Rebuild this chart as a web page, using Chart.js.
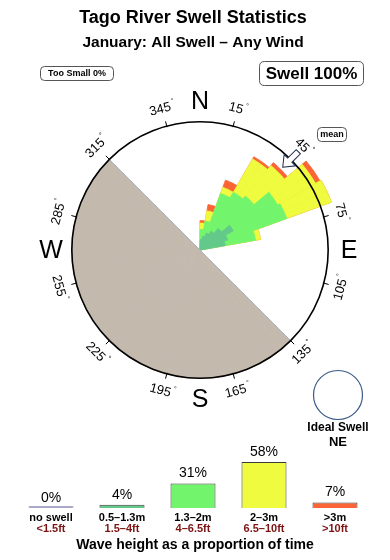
<!DOCTYPE html>
<html><head><meta charset="utf-8">
<script src="https://cdn.jsdelivr.net/npm/chart.js@4.4.1/dist/chart.umd.min.js"></script>
<style>
html,body{margin:0;padding:0;background:#fff;width:390px;height:560px;overflow:hidden}
#wrap{position:relative;width:390px;height:560px}
canvas{position:absolute;left:0}
#rose{top:0}
#bars{top:440px}
</style></head><body>
<div id="wrap"><canvas id="rose" width="390" height="560"></canvas><canvas id="bars" width="390" height="120"></canvas></div>
<script>
const FONT = '"Liberation Sans", Arial, Helvetica, sans-serif';
const titleText = 'Tago River Swell Statistics';
const subtitleText = 'January: All Swell – Any Wind';
const tooSmallText = 'Too Small 0%';
const swellText = 'Swell 100%';

// direction bins (start angle, degrees clockwise from N), 10° wide
const dirBinStart = [0, 10, 20, 30, 40, 50, 60, 70];
const dirBinWidth = 10;
// rose radius contribution per wave-height class (outer circle = 100)
const swell05to13 = [8, 11, 14, 17, 22, 30, 23, 20];
const swell13to2  = [8, 12, 33, 35, 33, 40, 49, 24];
const swell2to3   = [5,  8,  5, 30, 31, 34, 37,  4];
const swell3plus  = [2,  5,  6,  2,  3,  4,  0,  0];
// land sector (clockwise from..to)
const landFrom = 135, landTo = 315;
const meanDir = 45;
const idealSwell = 'NE';
const degreeTicks = [15, 45, 75, 105, 135, 165, 195, 225, 255, 285, 315, 345];
const compassLabels = ['N', 'E', 'S', 'W'];

// legend (wave height proportions)
const legendLabels = ['no swell', '0.5–1.3m', '1.3–2m', '2–3m', '>3m'];
const legendFeet = ['<1.5ft', '1.5–4ft', '4–6.5ft', '6.5–10ft', '>10ft'];
const legendPct = [0, 4, 31, 58, 7];
const footerText = 'Wave height as a proportion of time';

const colDark = '#63c98b', colGreen = '#72f56d', colYellow = '#eefb3e', colRed = '#fb6535', colLand = '#c4b9ad';
const legendColors = ['#a9a9c6', colDark, colGreen, colYellow, colRed];

// build 5-degree arrays
const STEP = 5, NB = 360 / STEP;
const roseLabels = Array.from({length: NB}, (_, i) => (i * STEP) + '°');
function cumulative(layers) {
  const out = new Array(NB).fill(0);
  dirBinStart.forEach((d, b) => {
    let v = 0; layers.forEach(l => v += l[b]);
    for (let a = d; a < d + dirBinWidth; a += STEP) out[a / STEP] = v;
  });
  return out;
}
const cumDark = cumulative([swell05to13]);
const cumGreen = cumulative([swell05to13, swell13to2]);
const cumYellow = cumulative([swell05to13, swell13to2, swell2to3]);
const cumRed = cumulative([swell05to13, swell13to2, swell2to3, swell3plus]);
const landData = Array.from({length: NB}, (_, i) => (i * STEP >= landFrom && i * STEP < landTo) ? 100 : 0);

function ds(data, color) {
  return { data, backgroundColor: color, borderColor: color,
    borderWidth: c => (c.raw > 0 ? 0.8 : 0) };
}

function roundRect(ctx, x, y, w, h, r) {
  ctx.beginPath();
  ctx.moveTo(x + r, y); ctx.lineTo(x + w - r, y); ctx.quadraticCurveTo(x + w, y, x + w, y + r);
  ctx.lineTo(x + w, y + h - r); ctx.quadraticCurveTo(x + w, y + h, x + w - r, y + h);
  ctx.lineTo(x + r, y + h); ctx.quadraticCurveTo(x, y + h, x, y + h - r);
  ctx.lineTo(x, y + r); ctx.quadraticCurveTo(x, y, x + r, y); ctx.closePath();
}

const roseDecor = {
  id: 'roseDecor',
  afterDatasetsDraw(chart) {
    const ctx = chart.ctx, s = chart.scales.r;
    const R = s.getDistanceFromCenterForValue(100);
    const rad = d => d * Math.PI / 180;
    ctx.save();
    // land edge
    ctx.strokeStyle = '#a9b6c6'; ctx.lineWidth = 1;
    ctx.beginPath();
    ctx.moveTo(s.xCenter + R * Math.sin(rad(landTo)), s.yCenter - R * Math.cos(rad(landTo)));
    ctx.lineTo(s.xCenter + R * Math.sin(rad(landFrom)), s.yCenter - R * Math.cos(rad(landFrom)));
    ctx.stroke();
    // outer circle (value 100)
    ctx.beginPath(); ctx.arc(s.xCenter, s.yCenter, R, 0, Math.PI * 2);
    ctx.strokeStyle = '#000'; ctx.lineWidth = 1.6; ctx.stroke();
    ctx.restore();
  },
  afterDraw(chart) {
    const ctx = chart.ctx, s = chart.scales.r;
    const cx = s.xCenter, cy = s.yCenter, R = s.getDistanceFromCenterForValue(100);
    const rad = d => d * Math.PI / 180;
    const pt = (deg, r) => [cx + r * Math.sin(rad(deg)), cy - r * Math.cos(rad(deg))];
    ctx.save();
    // titles
    ctx.fillStyle = '#000'; ctx.textAlign = 'center'; ctx.textBaseline = 'middle';
    ctx.font = 'bold 18px ' + FONT; ctx.fillText(titleText, 193, 18);
    ctx.font = 'bold 15.5px ' + FONT; ctx.fillText(subtitleText, 193, 43);
    // boxes
    ctx.strokeStyle = '#555'; ctx.lineWidth = 1;
    roundRect(ctx, 40.5, 66.5, 73, 14, 4); ctx.stroke();
    ctx.font = 'bold 9px ' + FONT; ctx.fillText(tooSmallText, 77, 74);
    roundRect(ctx, 259.5, 61.5, 104, 24, 5); ctx.stroke();
    ctx.font = 'bold 17px ' + FONT; ctx.fillText(swellText, 311.5, 74);
    roundRect(ctx, 317.5, 127.5, 29, 14, 4); ctx.stroke();
    ctx.font = 'bold 9px ' + FONT; ctx.fillText('mean', 332, 135);
    // compass letters
    ctx.font = '25px ' + FONT;
    compassLabels.forEach((l, i) => { const [x, y] = pt(i * 90, 149); ctx.fillText(l, x, y + 1); });
    // degree ticks and labels
    ctx.strokeStyle = '#000'; ctx.lineWidth = 1;
    degreeTicks.forEach(d => {
      const [x1, y1] = pt(d, R - 1), [x2, y2] = pt(d, R + 5);
      ctx.beginPath(); ctx.moveTo(x1, y1); ctx.lineTo(x2, y2); ctx.stroke();
      const [x, y] = pt(d, 146);
      let rot = d; if (d > 90 && d < 270) rot = d - 180;
      ctx.save(); ctx.translate(x, y); ctx.rotate(rad(rot));
      ctx.font = '13px ' + FONT; ctx.textAlign = 'center';
      const w = ctx.measureText(String(d)).width;
      ctx.fillText(String(d), -2, 0);
      ctx.font = '7px ' + FONT; ctx.fillText('°', -2 + w / 2 + 3, -5);
      ctx.restore();
    });
    // mean arrow (pointing to centre)
    ctx.save(); ctx.translate(cx, cy); ctx.rotate(rad(meanDir));
    ctx.beginPath();
    ctx.moveTo(0, -117); ctx.lineTo(8, -127); ctx.lineTo(3, -127); ctx.lineTo(3, -139);
    ctx.lineTo(-3, -139); ctx.lineTo(-3, -127); ctx.lineTo(-8, -127); ctx.closePath();
    ctx.fillStyle = '#fff'; ctx.fill(); ctx.strokeStyle = '#1d2d4a'; ctx.lineWidth = 1; ctx.stroke();
    ctx.restore();
    // ideal swell
    ctx.beginPath(); ctx.arc(338, 395, 24.5, 0, Math.PI * 2);
    ctx.strokeStyle = '#3a5a88'; ctx.lineWidth = 1.2; ctx.stroke();
    ctx.fillStyle = '#000'; ctx.textAlign = 'center';
    ctx.font = 'bold 12px ' + FONT; ctx.fillText('Ideal Swell', 338, 428);
    ctx.font = 'bold 13px ' + FONT; ctx.fillText(idealSwell, 338, 442);
    ctx.restore();
  }
};

new Chart(document.getElementById('rose'), {
  type: 'polarArea',
  data: {
    labels: roseLabels,
    datasets: [ds(cumDark, colDark), ds(cumGreen, colGreen), ds(cumYellow, colYellow), ds(cumRed, colRed), ds(landData, colLand)]
  },
  options: {
    responsive: false, animation: false,
    layout: { padding: { left: 59, right: 49, top: 109, bottom: 169 } },
    plugins: { legend: { display: false }, tooltip: { enabled: false } },
    scales: {
      r: {
        min: 0, max: 110, startAngle: 0,
        ticks: { display: false, stepSize: 100 },
        pointLabels: { display: false },
        angleLines: { display: false },
        grid: { display: false }
      }
    }
  },
  plugins: [roseDecor]
});

const barText = {
  id: 'barText',
  afterDraw(chart) {
    const ctx = chart.ctx, x = chart.scales.x, y = chart.scales.y;
    ctx.save(); ctx.textAlign = 'center'; ctx.textBaseline = 'middle';
    legendPct.forEach((v, i) => {
      const px = x.getPixelForValue(i);
      ctx.fillStyle = '#000'; ctx.font = '14px ' + FONT;
      ctx.fillText(v + '%', px, y.getPixelForValue(v) - 10);
      ctx.font = 'bold 11px ' + FONT; ctx.fillText(legendLabels[i], px, 78);
      ctx.fillStyle = '#7d1212'; ctx.fillText(legendFeet[i], px, 89);
    });
    ctx.fillStyle = '#000'; ctx.font = 'bold 14px ' + FONT;
    ctx.fillText(footerText, 195, 105);
    ctx.restore();
  }
};

new Chart(document.getElementById('bars'), {
  type: 'bar',
  data: { labels: legendLabels, datasets: [{ data: legendPct, backgroundColor: legendColors,
    borderColor: ['#a9a9c6', '#3d3d3d', '#3d3d3d', '#3d3d3d', '#3d3d3d'], borderWidth: 1, minBarLength: 2,
    categoryPercentage: 1, barPercentage: 0.634 }] },
  options: {
    responsive: false, animation: false,
    layout: { padding: { left: 15.5, right: 19.5, top: 12.5, bottom: 52 } },
    plugins: { legend: { display: false }, tooltip: { enabled: false } },
    scales: { x: { display: false }, y: { display: false, min: 0, max: 70 } }
  },
  plugins: [barText]
});
</script>
</body></html>
